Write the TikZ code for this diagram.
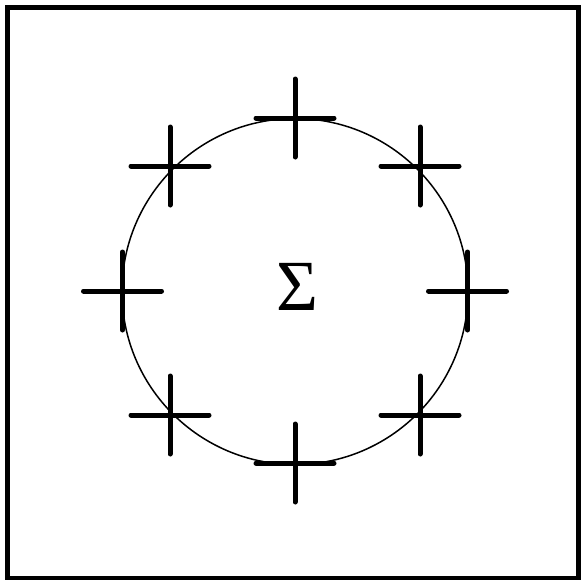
\documentclass[tikz,border=0pt]{standalone}
\usepackage{fontspec}
\setmainfont{Liberation Serif}
\begin{document}
\begin{tikzpicture}[x=1pt,y=-1pt,
  crossarm/.style={line width=5pt,line cap=round},
  ring/.style={line width=1.5pt},
  frame/.style={line width=4.5pt}]
\useasboundingbox (0,0) rectangle (582,582);
\draw[frame] (7.5,7.5) rectangle (578.5,578);
\node[circle,ring,draw,minimum size=346pt,inner sep=0pt] (c) at (295,291.5) {};
\node (s) at (297,287) {\fontsize{72}{72}\selectfont Σ};
\foreach \n/\x/\y in {t/295/118, tr/420/166, r/467.5/291, br/420/415, b/295/463, bl/170/415, l/122.5/291, tl/170/166}{
  \coordinate (\n) at (\x,\y);
  \draw[crossarm] ([xshift=-39pt]\n) -- ([xshift=39pt]\n);
  \draw[crossarm] ([yshift=-39pt]\n) -- ([yshift=39pt]\n);
}
\end{tikzpicture}
\end{document}
